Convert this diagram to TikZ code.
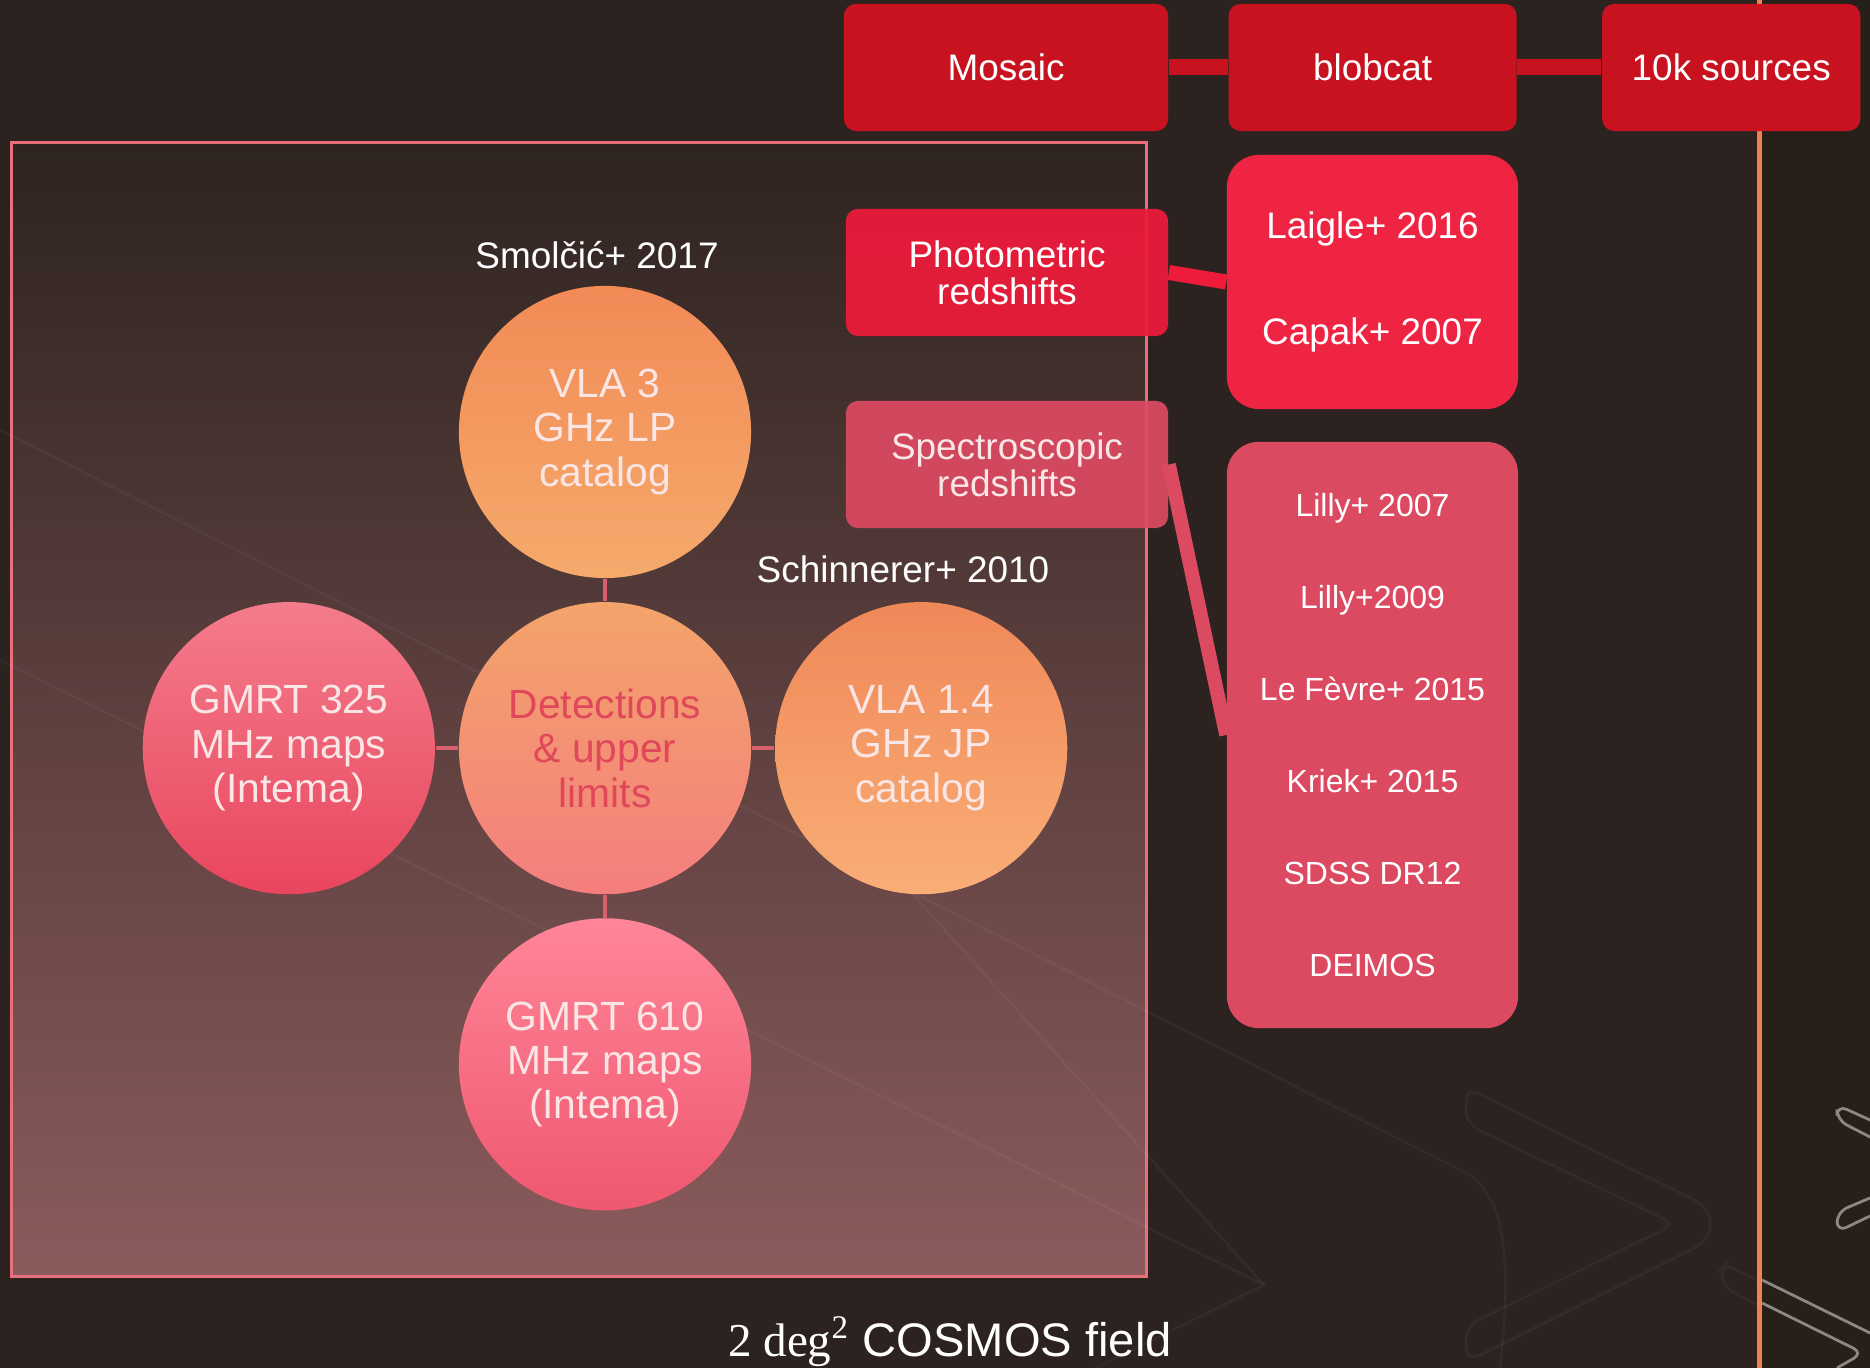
\documentclass[tikz,border=0pt]{standalone}
\usepackage{fontspec}
\setmainfont{Liberation Sans}
\newfontfamily\capserif{Liberation Serif}
\usepackage{xcolor}
\usetikzlibrary{positioning}

\definecolor{slidebg}{HTML}{2C2320}
\definecolor{panelbg}{HTML}{262019}
\definecolor{fieldtop}{HTML}{2E2420}
\definecolor{fieldbot}{HTML}{8B5B5C}
\definecolor{fieldrim}{HTML}{E8707A}
\definecolor{pipered}{HTML}{C8121F}
\definecolor{photored}{HTML}{EE1B3B}
\definecolor{specpink}{HTML}{DC4A62}
\definecolor{rulebar}{HTML}{F4804E}
\definecolor{ringrose}{HTML}{D8606C}
\definecolor{decogrey}{HTML}{8C8782}
\definecolor{softwhite}{HTML}{FBE6E6}
\definecolor{detred}{HTML}{E0485A}

\begin{document}
\begin{tikzpicture}[
      x=0.01cm, y=0.01cm,
      node distance=3.16cm,
      box/.style={rectangle, rounded corners=0.12cm, align=center, text=white, inner sep=0pt,
        minimum height=1.27cm, font=\fontsize{10.5}{10.5}\selectfont},
      litbox/.style={box, rounded corners=0.32cm, minimum width=2.91cm},
      ring/.style={circle, minimum size=2.92cm, inner sep=0pt, align=center,
        text=softwhite, font=\fontsize{11.6}{12.6}\selectfont},
      refnote/.style={text=white, font=\fontsize{10.5}{10.5}\selectfont},
      ringline/.style={draw=ringrose, line width=1.2pt},
      deco/.style={draw=white, draw opacity=0.04, line width=0.7pt},
      greydeco/.style={draw=decogrey, line width=0.8pt, rounded corners=3}
    ]
    \useasboundingbox (0,0) rectangle (1870,1368);
    \fill[slidebg] (0,0) rectangle (1870,1368);
    \fill[panelbg] (1761,0) rectangle (1870,1368);

    \node[draw=fieldrim, line width=0.7pt, top color=fieldtop, bottom color=fieldbot,
      minimum width=11.34cm, minimum height=11.33cm, inner sep=0pt] (field) at (579,658.5) {};

    \draw[deco] (0,938) -- (1470,193) .. controls (1505,168) and (1512,108) .. (1500,0);
    \draw[deco] (0,708) -- (1264,83) -- (1096,0);
    \draw[deco] (880,510) -- (1264,83);
    \draw[deco, rounded corners=4] (1466,281) -- (1710,160) -- (1710,128) -- (1466,6)
      -- (1466,42) -- (1675,144) -- (1466,244) -- cycle;
    \draw[deco, rounded corners=3] (1759,87) -- (1725,104) -- (1722,100) -- (1722,82) -- (1759,62);
    \draw[greydeco] (1870,248) -- (1837,263) -- (1837,248) -- (1870,231);
    \draw[greydeco] (1870,170) -- (1837,156) -- (1837,136) -- (1870,152);
    \draw[greydeco] (1762,88) -- (1870,35);
    \draw[greydeco] (1762,65) -- (1863,15) -- (1837,0);

    \draw[rulebar, line width=0.05cm] (1759,0) -- (1759,1368);

    \node[box, fill=pipered, minimum width=3.24cm] (mosaic) at (1006,1300.5) {Mosaic};
    \node[box, fill=pipered, minimum width=2.88cm, right=0.59cm of mosaic] (blobcat) {blobcat};
    \node[box, fill=pipered, minimum width=2.58cm, right=0.84cm of blobcat] (tenk) {10k sources};

    \node[box, fill=photored, fill opacity=0.93, text opacity=1, minimum width=3.22cm] (phot) at (1007,1095.5) {Photometric\\redshifts};
    \node[litbox, fill=photored!96!white, minimum height=2.54cm] (photlit) at (1372.5,1086) {Laigle+ 2016\\[19.6pt]Capak+ 2007};

    \node[box, fill=specpink, fill opacity=0.93, text opacity=1, text=softwhite, minimum width=3.22cm] (spec) at (1007,903.5) {Spectroscopic\\redshifts};
    \node[litbox, fill=specpink, minimum height=5.86cm, font=\fontsize{9.1}{9.1}\selectfont] (speclit) at (1372.5,633)
      {Lilly+ 2007\\[17.1pt]Lilly+2009\\[17.1pt]Le Fèvre+ 2015\\[17.1pt]Kriek+ 2015\\[17.1pt]SDSS DR12\\[17.1pt]DEIMOS};

    \draw[pipered, line width=0.16cm] (mosaic) -- (blobcat);
    \draw[pipered, line width=0.16cm] (blobcat) -- (tenk);
    \draw[photored, line width=0.15cm] (phot.east) -- (photlit.west);
    \draw[specpink, line width=0.14cm] (spec.east) -- (speclit.west);

    \node[ring, top color={rgb,255:red,242;green,138;blue,86}, bottom color={rgb,255:red,245;green,170;blue,108}] (vla3) at (605,936) {VLA 3\\GHz LP\\catalog};
    \node[ring, below of=vla3, text=detred, top color={rgb,255:red,243;green,164;blue,106}, bottom color={rgb,255:red,244;green,126;blue,126}] (det) {Detections\\\& upper\\limits};
    \node[ring, left of=det, top color={rgb,255:red,244;green,124;blue,140}, bottom color={rgb,255:red,233;green,70;blue,94}] (gmrtlow) {GMRT 325\\MHz maps\\(Intema)};
    \node[ring, right of=det, top color={rgb,255:red,240;green,136;blue,88}, bottom color={rgb,255:red,249;green,174;blue,118}] (vlajp) {VLA 1.4\\GHz JP\\catalog};
    \node[ring, below of=det, top color={rgb,255:red,255;green,133;blue,152}, bottom color={rgb,255:red,239;green,88;blue,112}] (gmrthigh) {GMRT 610\\MHz maps\\(Intema)};

    \draw[ringline] (vla3) -- (det);
    \draw[ringline] (gmrtlow) -- (det);
    \draw[ringline] (det) -- (vlajp);
    \draw[ringline] (det) -- (gmrthigh);

    \node[refnote] (smolcic) at (597,1113) {Smolčić+ 2017};
    \node[refnote] (schinnerer) at (903,799) {Schinnerer+ 2010};

    \node[text=white, anchor=base, font=\fontsize{13.4}{13.4}\selectfont] (cosmos) at (950,11) {{\capserif 2 deg\textsuperscript{2}} COSMOS field};
  \end{tikzpicture}
\end{document}
